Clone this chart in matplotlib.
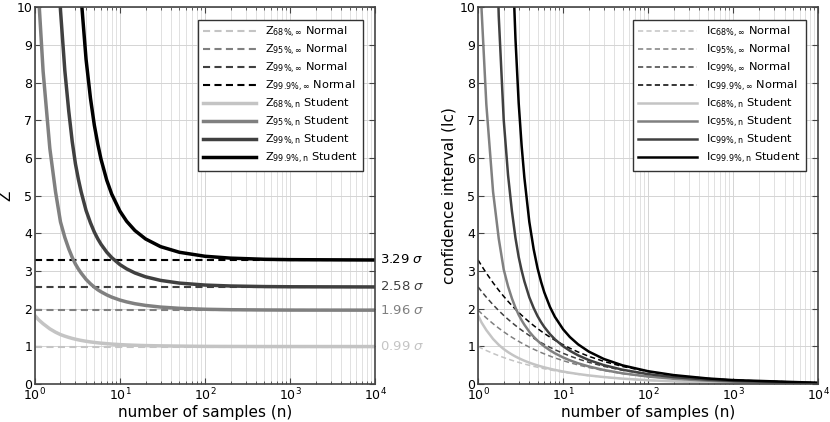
import numpy as np
import matplotlib
matplotlib.use("Agg")
import matplotlib.pyplot as plt

n = np.array([1, 1.1, 1.25, 1.5, 1.75, 2, 2.25, 2.5, 2.75, 3, 3.25, 3.5, 4,
              4.5, 5, 5.5, 6, 7, 8, 10, 12, 15, 20, 30, 50, 100, 200, 500,
              1000, 10000])

# Student Z values, one list per confidence level
z68_n = [1.819, 1.71, 1.60, 1.464, 1.375, 1.312, 1.270, 1.237, 1.210, 1.189,
         1.172, 1.157, 1.134, 1.117, 1.104, 1.093, 1.084, 1.071, 1.060, 1.046,
         1.037, 1.029, 1.020, 1.013, 1.006, 0.999, 0.997, 0.995, 0.995, 0.994]
z95_n = [12.706, 10.4, 8.3, 6.25, 5.1, 4.303, 3.89, 3.59, 3.36, 3.182, 3.05,
         2.944, 2.776, 2.66, 2.571, 2.50, 2.447, 2.365, 2.306, 2.228, 2.179,
         2.131, 2.086, 2.042, 2.009, 1.984, 1.972, 1.965, 1.962, 1.960]
z99_n = [63.66, 45.4, 30.3, 18.4, 12.9, 9.925, 8.32, 7.25, 6.43, 5.841, 5.43,
         5.10, 4.604, 4.28, 4.032, 3.85, 3.707, 3.499, 3.355, 3.169, 3.055,
         2.947, 2.845, 2.750, 2.678, 2.626, 2.601, 2.586, 2.581, 2.576]
z999_n = [636.6, 369, 191, 86, 48.5, 31.6, 23.5, 18.5, 15.2, 12.92, 11.4,
          10.25, 8.61, 7.59, 6.869, 6.36, 5.959, 5.408, 5.041, 4.587, 4.318,
          4.073, 3.850, 3.646, 3.496, 3.390, 3.340, 3.310, 3.300, 3.291]

# Normal (n -> infinity) values
z_inf = [0.994, 1.960, 2.576, 3.291]
levels = ["68%", "95%", "99%", "99.9%"]
tags = ["0.99", "1.96", "2.58", "3.29"]
student = [z68_n, z95_n, z99_n, z999_n]

colors = ["#c4c4c4", "#808080", "#404040", "#000000"]

plt.rcParams["font.family"] = "DejaVu Sans"
plt.rcParams["mathtext.fontset"] = "dejavusans"

fig = plt.figure(figsize=(8.3, 4.22), dpi=100)
ax1 = fig.add_axes([0.042, 0.090, 0.410, 0.893])
ax2 = fig.add_axes([0.576, 0.090, 0.410, 0.893])


def style(ax):
    ax.set_xscale("log")
    ax.set_xlim(1, 1e4)
    ax.set_ylim(0, 10)
    ax.set_yticks(range(0, 11))
    ax.grid(True, which="major", color="#d4d4d4", lw=0.7)
    ax.grid(True, which="minor", axis="x", color="#dcdcdc", lw=0.6)
    ax.tick_params(which="both", direction="in", top=True, right=True,
                   labelsize=9, color="#444444", pad=2)
    ax.tick_params(which="major", length=4.5)
    ax.tick_params(which="minor", length=2.5)
    for s in ax.spines.values():
        s.set_color("#444444")
        s.set_linewidth(1.2)
    ax.set_xlabel("number of samples (n)", fontsize=11, labelpad=1)
    ax.set_axisbelow(True)


def add_legend(ax, hl):
    leg = ax.legend(loc="upper right", fontsize=8.2, handlelength=hl,
                    fancybox=False, framealpha=1, edgecolor="#333333",
                    borderaxespad=1.1, labelspacing=0.25, borderpad=0.45)
    leg.get_frame().set_linewidth(1.0)


dash = (0, (3.4, 2.1))

# ---------- left: Z ----------
for lev, zi, c in zip(levels, z_inf, colors):
    ax1.plot(n, np.full(len(n), zi), ls=dash, lw=1.5, color=c,
             label=r"Z$_{%s,\infty}$ Normal" % lev.replace("%", r"\%"))
for lev, zs, c in zip(levels, student, colors):
    ax1.plot(n, zs, lw=2.5, color=c,
             label=r"Z$_{%s,\mathrm{n}}$ Student" % lev.replace("%", r"\%"))
for zi, t, c in zip(z_inf, tags, colors):
    ax1.text(1.013, zi / 10, t + r" $\sigma$", transform=ax1.transAxes,
             color=c, fontsize=9.5, va="center", ha="left")
style(ax1)
ax1.set_ylabel("Z", fontsize=11, labelpad=2)
add_legend(ax1, 4.6)

# ---------- right: confidence interval ----------
root_n = np.sqrt(n)
for lev, zi, c in zip(levels, z_inf, colors):
    ax2.plot(n, zi / root_n, ls=dash, lw=1.1, color=c,
             label=r"Ic$_{%s,\infty}$ Normal" % lev.replace("%", r"\%"))
for lev, zs, c in zip(levels, student, colors):
    ax2.plot(n, np.array(zs) / root_n, lw=1.8, color=c,
             label=r"Ic$_{%s,\mathrm{n}}$ Student" % lev.replace("%", r"\%"))
style(ax2)
ax2.set_ylabel("confidence interval (Ic)", fontsize=11, labelpad=2)
add_legend(ax2, 5.2)

fig.savefig("out.png", dpi=100)
